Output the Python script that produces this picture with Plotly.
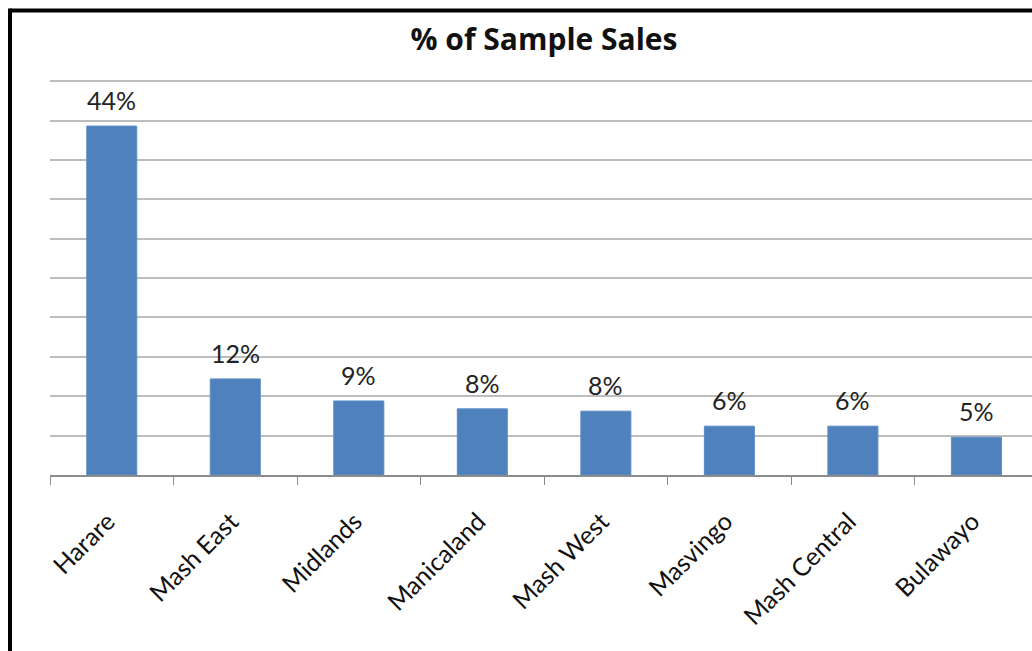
import plotly.graph_objects as go

regions = ["Harare", "Mash East", "Midlands", "Manicaland", "Mash West",
           "Masvingo", "Mash Central", "Bulawayo"]
share_pct = [44.3, 12.2, 9.4, 8.4, 8.1, 6.2, 6.2, 4.8]

FONT = "Lato"
W, H = 1032, 651
L, T, B = 50, 80, 176
plot_w = W - L
plot_h = H - T - B

fig = go.Figure(go.Bar(
    x=regions, y=share_pct,
    marker=dict(color="#4F81BD", line=dict(color="#5B8CC6", width=1)),
    width=0.405,
))

for r, v in zip(regions, share_pct):
    fig.add_annotation(
        x=r, y=v, text=f"{v:.0f}%", showarrow=False,
        yanchor="bottom", xanchor="center", yshift=9,
        font=dict(family=FONT, size=25, color="#222222"),
    )

def px_x(x):
    return (x - L) / plot_w

def px_y(y):
    return (H - B - y) / plot_h

fig.update_layout(
    width=W, height=H,
    margin=dict(l=L, r=0, t=T, b=B),
    paper_bgcolor="white", plot_bgcolor="white",
    showlegend=False,
    title=dict(text="<b>% of Sample Sales</b>", x=544 / W, xanchor="center",
               y=1 - 39 / H, yanchor="middle",
               font=dict(family="Open Sans", size=30, color="#111111")),
    xaxis=dict(
        type="category", range=[-0.5, 7.45],
        showgrid=False, showline=True, linecolor="#8c8c8c", linewidth=2,
        ticks="outside", tickson="boundaries", ticklen=8, tickcolor="#8c8c8c", tickwidth=1,
        tickangle=-45, tickfont=dict(family=FONT, size=25, color="#111111"),
        ticklabelstandoff=20, ticklabelshift=-4,
    ),
    yaxis=dict(
        range=[0, 50.15], dtick=5, showgrid=True, gridcolor="#bdbdbd", gridwidth=1.5,
        showticklabels=False, zeroline=False, showline=False, ticks="",
    ),
    shapes=[
        dict(type="line", xref="paper", yref="paper",
             x0=px_x(10), x1=px_x(W + 20), y0=px_y(10.5), y1=px_y(10.5),
             line=dict(color="black", width=4)),
        dict(type="line", xref="paper", yref="paper",
             x0=px_x(10), x1=px_x(10), y0=px_y(8.5), y1=px_y(H + 20),
             line=dict(color="black", width=4)),
    ],
)

fig.write_html("out.html")
